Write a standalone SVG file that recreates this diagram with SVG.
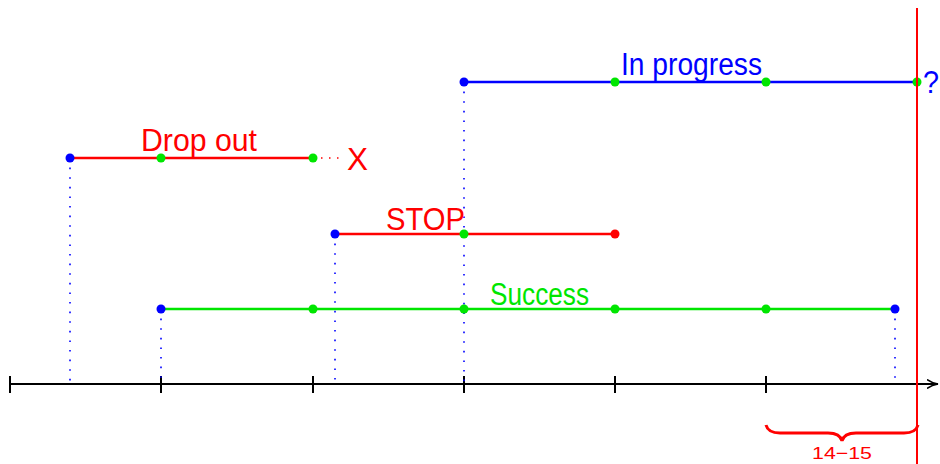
<svg xmlns="http://www.w3.org/2000/svg" width="940" height="464" viewBox="0 0 940 464">
<defs>
<style>
.lbl{font-family:"Liberation Sans","DejaVu Sans",sans-serif;font-size:31px}
.vd{stroke:#0000ff;stroke-width:1.6;stroke-dasharray:1.6 8;fill:none}
.bd{fill:#0000ff}.gd{fill:#00e600}.rd{fill:#ff0000}
</style>
<marker id="arr" viewBox="0 0 12 10" refX="11" refY="5" markerWidth="12" markerHeight="10" markerUnits="userSpaceOnUse" orient="auto"><path d="M0,0.5 Q5,4 11,5 Q5,6 0,9.5" fill="none" stroke="#000" stroke-width="1.5"/></marker>
</defs>
<g id="axis">
<line x1="10" y1="384" x2="938" y2="384" stroke="#000" stroke-width="2" marker-end="url(#arr)"/>
<g stroke="#000" stroke-width="2">
<line x1="10" y1="376" x2="10" y2="393"/><line x1="161" y1="376" x2="161" y2="393"/><line x1="313" y1="376" x2="313" y2="393"/><line x1="464" y1="376" x2="464" y2="393"/><line x1="615" y1="376" x2="615" y2="393"/><line x1="766" y1="376" x2="766" y2="393"/>
</g>
</g>
<g id="connectors">
<line class="vd" x1="70" y1="158" x2="70" y2="384"/>
<line class="vd" x1="161" y1="309" x2="161" y2="384"/>
<line class="vd" x1="335" y1="234" x2="335" y2="384"/>
<line class="vd" x1="464" y1="82" x2="464" y2="384"/>
<line class="vd" x1="895" y1="309" x2="895" y2="384"/>
<line x1="313" y1="158" x2="345" y2="158" stroke="#ff0000" stroke-width="1.5" stroke-dasharray="1.5 6.5"/>
</g>
<g id="in-progress">
<line x1="464" y1="82" x2="917" y2="82" stroke="#0000ff" stroke-width="2.5"/>
<circle class="bd" cx="464" cy="82" r="4.5"/><circle class="gd" cx="615" cy="82" r="4.5"/><circle class="gd" cx="766" cy="82" r="4.5"/><circle class="gd" cx="917" cy="82" r="4.5"/>
<text class="lbl" x="621" y="75" fill="#0000ff" textLength="141" lengthAdjust="spacingAndGlyphs">In progress</text>
<text class="lbl" x="923" y="93" fill="#0000ff" textLength="16" lengthAdjust="spacingAndGlyphs">?</text>
</g>
<g id="drop-out">
<line x1="70" y1="158" x2="313" y2="158" stroke="#ff0000" stroke-width="2.5"/>
<circle class="bd" cx="70" cy="158" r="4.5"/><circle class="gd" cx="161" cy="158" r="4.5"/><circle class="gd" cx="313" cy="158" r="4.5"/>
<text class="lbl" x="141" y="151" fill="#ff0000" textLength="116" lengthAdjust="spacingAndGlyphs">Drop out</text>
<text class="lbl" x="347" y="170" fill="#ff0000" textLength="21" lengthAdjust="spacingAndGlyphs">X</text>
</g>
<g id="stop">
<line x1="335" y1="234" x2="615" y2="234" stroke="#ff0000" stroke-width="2.5"/>
<circle class="bd" cx="335" cy="234" r="4.5"/><circle class="gd" cx="464" cy="234" r="4.5"/><circle class="rd" cx="615" cy="234" r="4.5"/>
<text class="lbl" x="386" y="230" fill="#ff0000" textLength="79" lengthAdjust="spacingAndGlyphs">STOP</text>
</g>
<g id="success">
<line x1="161" y1="309" x2="895" y2="309" stroke="#00e600" stroke-width="2.5"/>
<circle class="bd" cx="161" cy="309" r="4.5"/><circle class="gd" cx="313" cy="309" r="4.5"/><circle class="gd" cx="464" cy="309" r="4.5"/><circle class="gd" cx="615" cy="309" r="4.5"/><circle class="gd" cx="766" cy="309" r="4.5"/><circle class="bd" cx="895" cy="309" r="4.5"/>
<text class="lbl" x="490" y="305" fill="#00e600" textLength="99" lengthAdjust="spacingAndGlyphs">Success</text>
</g>
<g id="now">
<line x1="917" y1="8" x2="917" y2="464" stroke="#ff0000" stroke-width="2"/>
</g>
<g id="brace">
<path d="M766,425 Q768,433 780,433 L828,433 Q840,433 842,441 Q844,433 856,433 L904,433 Q916,433 918,425" fill="none" stroke="#ff0000" stroke-width="3"/>
<text x="842" y="459" text-anchor="middle" fill="#ff0000" font-family="Liberation Sans,DejaVu Sans,sans-serif" font-size="17" textLength="60" lengthAdjust="spacingAndGlyphs">14−15</text>
</g>
</svg>
